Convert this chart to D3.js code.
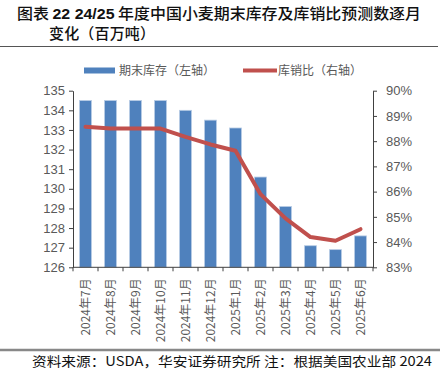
<!DOCTYPE html>
<html><head><meta charset="utf-8">
<script src="https://cdn.jsdelivr.net/npm/d3@7/dist/d3.min.js"></script>
<style>
body{margin:0;background:#fff;}
svg{display:block;}
</style></head>
<body>
<svg id="chart" width="446" height="380"></svg>
<script>
const categories = ["2024年7月","2024年8月","2024年9月","2024年10月","2024年11月","2024年12月","2025年1月","2025年2月","2025年3月","2025年4月","2025年5月","2025年6月"];
const stocks = [134.5,134.5,134.5,134.5,134.0,133.5,133.1,130.6,129.1,127.1,126.9,127.6];
const ratio = [88.57,88.5,88.5,88.5,88.17,87.87,87.62,85.9,84.94,84.2,84.05,84.51];
const leftTicks = [126,127,128,129,130,131,132,133,134,135];
const rightTicks = [83,84,85,86,87,88,89,90];
const titleParts = ["图表 ","22 24/25"," 年度中国小麦期末库存及库销比预测数逐月"];
const titleLine2 = "变化（百万吨）";
const legendLabels = ["期末库存（左轴）","库销比（右轴）"];
const sourceText = "资料来源：USDA，华安证券研究所 注：根据美国农业部 2024";

const svg = d3.select("#chart");
const L = 73, R = 373, T = 90.7, B = 267.3;
const cjk = "'Noto Sans CJK SC', 'Noto Sans', sans-serif";
const axisColor = "#404040", textColor = "#595959";

// title
const t1 = svg.append("text").attr("x",17).attr("y",18.5).attr("font-family",cjk)
  .attr("font-size",15).attr("fill","#111")
  .attr("textLength",404).attr("lengthAdjust","spacingAndGlyphs");
t1.append("tspan").attr("font-weight",500).text(titleParts[0]);
t1.append("tspan").attr("font-weight","bold").attr("font-family","'Liberation Sans', sans-serif").text(titleParts[1]);
t1.append("tspan").attr("font-weight",500).text(titleParts[2]);
svg.append("text").attr("x",49).attr("y",39).attr("font-family",cjk).attr("font-weight",500)
  .attr("font-size",15).attr("fill","#111").text(titleLine2)
  .attr("textLength",106).attr("lengthAdjust","spacing");
svg.append("line").attr("x1",0).attr("x2",438).attr("y1",46.5).attr("y2",46.5).attr("stroke","#555").attr("stroke-width",1);

const band = d3.scaleBand().domain(categories).range([L,R]);
const yL = d3.scaleLinear().domain([126,135]).range([B,T]);
const yR = d3.scaleLinear().domain([83,90]).range([B,T]);

// bars
svg.append("g").selectAll("rect").data(stocks).join("rect")
  .attr("x",(d,i)=>band(categories[i])+band.bandwidth()/2-6)
  .attr("width",12)
  .attr("y",d=>yL(d)).attr("height",d=>B-yL(d))
  .attr("fill","#4F81BD").attr("stroke","#b9cde5").attr("stroke-width",0.8);

// line
const line = d3.line().x((d,i)=>band(categories[i])+band.bandwidth()/2).y(d=>yR(d));
svg.append("path").datum(ratio).attr("d",line).attr("fill","none")
  .attr("stroke","#C0504D").attr("stroke-width",4).attr("stroke-linejoin","round").attr("stroke-linecap","round");

// left axis
const gl = svg.append("g").attr("transform",`translate(${L},0)`)
  .call(d3.axisLeft(yL).tickValues(leftTicks).tickSize(4).tickSizeOuter(0).tickFormat(d3.format("d")).tickPadding(4));
gl.select(".domain").attr("stroke",axisColor);
gl.selectAll(".tick line").attr("stroke",axisColor);
gl.selectAll(".tick text").attr("fill",textColor).attr("font-size",13).attr("font-family","'Liberation Sans', sans-serif");

// right axis
const gr = svg.append("g").attr("transform",`translate(${R},0)`)
  .call(d3.axisRight(yR).tickValues(rightTicks).tickSize(4).tickSizeOuter(0).tickFormat(d=>d+"%").tickPadding(9));
gr.select(".domain").attr("stroke",axisColor);
gr.selectAll(".tick line").attr("stroke",axisColor);
gr.selectAll(".tick text").attr("fill",textColor).attr("font-size",13).attr("font-family","'Liberation Sans', sans-serif");

// bottom axis
const gb = svg.append("g").attr("transform",`translate(0,${B})`);
gb.append("line").attr("x1",L).attr("x2",R).attr("y1",0).attr("y2",0).attr("stroke",axisColor);
const bounds = categories.map(c=>band(c)).concat([R]);
gb.selectAll("line.t").data(bounds).join("line").attr("class","t")
  .attr("x1",d=>d).attr("x2",d=>d).attr("y1",0).attr("y2",4).attr("stroke",axisColor);
gb.selectAll("text").data(categories).join("text")
  .attr("transform",d=>`translate(${band(d)+band.bandwidth()/2+4},${11}) rotate(-90)`)
  .attr("text-anchor","end").attr("font-size",12).attr("font-family",cjk).attr("fill",textColor).text(d=>d);

// legend
svg.append("rect").attr("x",84).attr("y",67.5).attr("width",31).attr("height",6).attr("fill","#4F81BD");
svg.append("text").attr("x",119).attr("y",75).attr("font-size",12).attr("font-family",cjk).attr("fill",textColor).text(legendLabels[0]);
svg.append("line").attr("x1",243).attr("x2",277).attr("y1",70.5).attr("y2",70.5).attr("stroke","#C0504D").attr("stroke-width",4);
svg.append("text").attr("x",278).attr("y",75).attr("font-size",12).attr("font-family",cjk).attr("fill",textColor).text(legendLabels[1]);

// footer
svg.append("line").attr("x1",0).attr("x2",440).attr("y1",350).attr("y2",350).attr("stroke","#888").attr("stroke-width",2.5);
svg.append("text").attr("x",32).attr("y",366).attr("font-size",13).attr("font-family",cjk).attr("fill","#111").text(sourceText)
  .attr("textLength",400).attr("lengthAdjust","spacingAndGlyphs");
</script>
</body></html>
